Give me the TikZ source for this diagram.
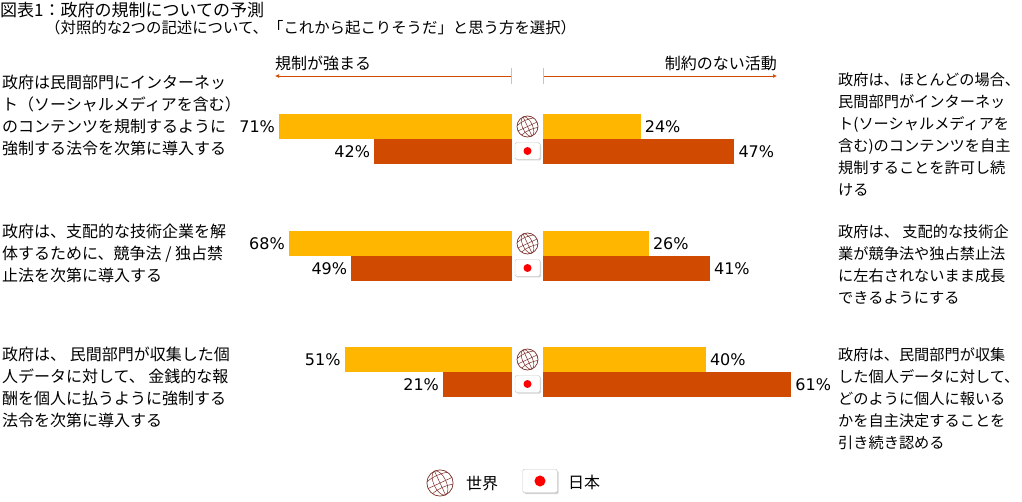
\documentclass[tikz,border=0pt]{standalone}
\usepackage{fontspec}
\setmainfont{Noto Sans CJK JP}
\newfontfamily\numfont{DejaVu Sans}
\usetikzlibrary{arrows.meta,positioning}
\definecolor{worldbar}{HTML}{FFB600}
\definecolor{japanbar}{HTML}{D04A02}
\definecolor{globeline}{HTML}{7A2B25}
\tikzset{
  title/.style={inner sep=0pt, anchor=north west, font=\fontsize{17}{20}\selectfont},
  subtitle/.style={inner sep=0pt, anchor=north west, font=\fontsize{15.4}{18}\selectfont},
  leftstmt/.style={align=left, inner sep=0pt, anchor=north west, font=\fontsize{16}{22}\selectfont},
  rightstmt/.style={align=left, inner sep=0pt, anchor=north west, font=\fontsize{15.2}{22}\selectfont},
  pct/.style={inner sep=0pt, font=\numfont\fontsize{16}{18}\selectfont},
  axislabel/.style={inner sep=0pt, font=\fontsize{16}{18}\selectfont},
  axisline/.style={japanbar, line width=0.7pt},
  tickline/.style={japanbar!40, line width=0.8pt},
  globe/.pic={
    \draw[globeline, line width=0.7pt] (0,0) circle[radius=10.5];
    \begin{scope}[globeline, line width=0.5pt, rotate=25]
      \draw (0,-10.5) -- (0,10.5);
      \draw (0,0) ellipse[x radius=5, y radius=10.5];
      \draw (-10.5,0) -- (10.5,0);
      \draw (-9.1,-5.25) .. controls (-3,-7) and (3,-7) .. (9.1,-5.25);
      \draw (-9.1,5.25) .. controls (-3,3.5) and (3,3.5) .. (9.1,5.25);
    \end{scope}
  },
  flag/.pic={
    \fill[gray!35, rounded corners=1.5pt] (-11.5,-7.5) rectangle (13.5,9.5);
    \filldraw[draw=gray!45, fill=white, rounded corners=1.5pt] (-12.5,-8.5) rectangle (12.5,8.5);
    \fill[red] (0,0) circle[radius=4];
  },
}

\begin{document}
\begin{tikzpicture}[x=1pt,y=-1pt]
  \useasboundingbox (0,0) rectangle (1022,502);
  % Title.
  \node[title] (title) at (0,2) {図表1：政府の規制についての予測};
  \node[subtitle] (subtitle) at (45,20.5) {（対照的な2つの記述について、「これから起こりそうだ」と思う方を選択）};

  % Axis arrows.
  \coordinate (regStart) at (511,76);  \coordinate (regEnd) at (275,76);
  \coordinate (freeStart) at (543,76); \coordinate (freeEnd) at (777,76);
  \draw[axisline, -{Latex[length=4pt,width=4pt]}] (regStart) -- (regEnd);
  \draw[axisline, -{Latex[length=4pt,width=4pt]}] (freeStart) -- (freeEnd);
  \draw[tickline] ([yshift=8pt]regStart) -- ([yshift=-8pt]regStart);
  \draw[tickline] ([yshift=8pt]freeStart) -- ([yshift=-8pt]freeStart);
  \node[axislabel, above right=5pt and 0pt of regEnd] (regLabel) {規制が強まる};
  \node[axislabel, above left=5pt and 0pt of freeEnd] (freeLabel) {制約のない活動};

  % Statements.
  \node[leftstmt] (stmtL1) at (2,75) {政府は民間部門にインターネッ\\ト（ソーシャルメディアを含む）\\のコンテンツを規制するように\\強制する法令を次第に導入する};
  \node[rightstmt] (stmtR1) at (838,73) {政府は、ほとんどの場合、\\民間部門がインターネッ\\ト(ソーシャルメディアを\\含む)のコンテンツを自主\\規制することを許可し続\\ける};
  \node[leftstmt] (stmtL2) at (2,224) {政府は、支配的な技術企業を解\\体するために、競争法 / 独占禁\\止法を次第に導入する};
  \node[rightstmt] (stmtR2) at (838,224) {政府は、 支配的な技術企\\業が競争法や独占禁止法\\に左右されないまま成長\\できるようにする};
  \node[leftstmt] (stmtL3) at (2,347) {政府は、 民間部門が収集した個\\人データに対して、 金銭的な報\\酬を個人に払うように強制する\\法令を次第に導入する};
  \node[rightstmt] (stmtR3) at (838,347) {政府は、民間部門が収集\\した個人データに対して、\\どのように個人に報いる\\かを自主決定することを\\引き続き認める};

  % Bars: world on top, Japan below.
  \foreach \r/\y/\wl/\jl/\wr/\jr in {1/114/71/42/24/47, 2/231/68/49/26/41, 3/347/51/21/40/61}{
    \fill[worldbar] (512,\y) rectangle ({512-3.28*\wl},\y+25);
    \fill[japanbar] (512,\y+25) rectangle ({512-3.28*\jl},\y+50);
    \fill[worldbar] (543,\y) rectangle ({543+4.07*\wr},\y+25);
    \fill[japanbar] (543,\y+25) rectangle ({543+4.07*\jr},\y+50);
    \node[pct, anchor=east] (worldL\r) at ({508-3.28*\wl},\y+12.5) {\wl\%};
    \node[pct, anchor=east] (japanL\r) at ({508-3.28*\jl},\y+37.5) {\jl\%};
    \node[pct, anchor=west] (worldR\r) at ({547+4.07*\wr},\y+12.5) {\wr\%};
    \node[pct, anchor=west] (japanR\r) at ({547+4.07*\jr},\y+37.5) {\jr\%};
    \pic at (527.5,\y+12.5) {globe};
    \pic at (527.5,\y+37) {flag};
  }

  % Legend.
  \pic[scale=1.25] at (440,483) {globe};
  \node[axislabel, anchor=west] (worldKey) at (466,484) {世界};
  \pic[scale=1.38] at (540,481) {flag};
  \node[axislabel, anchor=west] (japanKey) at (568,482) {日本};
\end{tikzpicture}
\end{document}
